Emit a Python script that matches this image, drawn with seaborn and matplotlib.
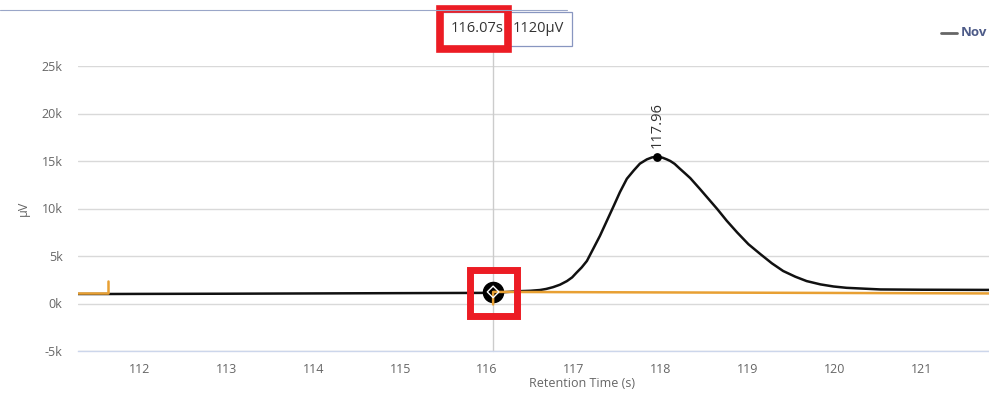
import numpy as np
import pandas as pd
import matplotlib
matplotlib.use("Agg")
import matplotlib.pyplot as plt
from matplotlib.patches import Rectangle
from matplotlib.lines import Line2D
import seaborn as sns

# chromatogram trace (black)
trace_time = [111.29, 111.63, 112.0, 113.0, 114.0, 115.0, 116.07, 116.38, 116.5,
              116.61, 116.68, 116.76, 116.84, 116.92, 116.98, 117.03, 117.09, 117.15,
              117.22, 117.30, 117.38, 117.46, 117.53, 117.61, 117.69, 117.76, 117.84,
              117.90, 117.96, 118.02, 118.07, 118.11, 118.16, 118.22, 118.28, 118.34,
              118.45, 118.55, 118.65, 118.76, 118.88, 119.01, 119.15, 119.28, 119.41,
              119.55, 119.68, 119.84, 119.99, 120.14, 120.30, 120.53, 121.0, 121.78]
trace_uv = [1000, 1000, 1010, 1030, 1060, 1090, 1120, 1300, 1340,
            1420, 1530, 1720, 1980, 2360, 2750, 3240, 3800, 4480,
            5710, 7120, 8710, 10300, 11720, 13130, 14010, 14720, 15170,
            15380, 15430, 15350, 15170, 15000, 14700, 14190, 13700, 13200,
            12070, 11010, 9950, 8710, 7480, 6240, 5180, 4230, 3420,
            2820, 2360, 2010, 1790, 1650, 1580, 1480, 1450, 1430]

# baseline (orange), two pieces
base_time = [111.29, 111.63, 111.63, 116.07, 116.07, 121.78]
base_uv = [1060, 1060, 2330, -100, 1220, 1060]
base_seg = [0, 0, 0, 1, 1, 1]

peak_time = 117.96
peak_uv = 15430
cursor_time = 116.07
cursor_uv = 1220

y_ticks = [-5000, 0, 5000, 10000, 15000, 20000, 25000]
y_labels = ["-5k", "0k", "5k", "10k", "15k", "20k", "25k"]
x_ticks = [112, 113, 114, 115, 116, 117, 118, 119, 120, 121]

trace_df = pd.DataFrame({"t": trace_time, "uv": trace_uv})
base_df = pd.DataFrame({"t": base_time, "uv": base_uv, "seg": base_seg})

sns.set_style("white")
plt.rcParams["font.family"] = ["Open Sans", "DejaVu Sans"]

W, H = 989, 395
fig = plt.figure(figsize=(W / 100, H / 100), dpi=100)

def fx(x):
    return x / W

def fy(y):
    return 1 - y / H

ax = fig.add_axes([fx(78), fy(351), fx(989) - fx(78), fy(66) - fy(351)])

sns.lineplot(data=trace_df, x="t", y="uv", estimator=None, sort=False,
             color="#111111", lw=1.8, ax=ax)
sns.lineplot(data=base_df, x="t", y="uv", units="seg", estimator=None, sort=False,
             color="#e8a033", lw=1.8, ax=ax, zorder=8)

# crosshair
ax.plot([cursor_time, cursor_time], [-5000, 27400], color="#cccccc", lw=1,
        clip_on=False, zorder=1)

# peak marker + label
ax.scatter([peak_time], [peak_uv], s=28, color="black", zorder=5)
ax.text(peak_time, peak_uv + 900, "117.96", rotation=90, ha="center", va="bottom",
        fontsize=10.5, color="#333333")

# cursor marker
ax.scatter([cursor_time], [cursor_uv], s=210, color="black", zorder=6)
ax.scatter([cursor_time], [cursor_uv], s=35, marker="D", facecolor="none",
           edgecolor="white", lw=1, zorder=9)

ax.set_xlim(111.29, 121.78)
ax.set_ylim(-5000, 25000)
ax.set_yticks(y_ticks)
ax.set_yticklabels(y_labels)
ax.set_xticks(x_ticks)
ax.grid(axis="y", color="#d9d9d9", lw=1)
ax.grid(axis="x", visible=False)
for s in ["top", "left", "right"]:
    ax.spines[s].set_visible(False)
ax.spines["bottom"].set_color("#ccd6eb")
ax.spines["bottom"].set_linewidth(1)
ax.tick_params(axis="y", length=0, pad=11, labelsize=9, labelcolor="#666666")
ax.tick_params(axis="x", length=6.5, width=1, color="#ccd6eb", pad=2,
               labelsize=9, labelcolor="#666666", direction="out")
ax.set_xlabel("Retention Time (s)", fontsize=9, color="#666666")
ax.xaxis.set_label_coords((582 - 78) / 911, -0.09)
ax.set_ylabel("µV", fontsize=9, color="#666666")
ax.yaxis.set_label_coords(-(78 - 30) / 911, 0.5)

# tooltip
fig.add_artist(Line2D([fx(0), fx(567)], [fy(10), fy(10)], color="#9aa6c8", lw=0.8))
fig.add_artist(Rectangle((fx(437), fy(46)), fx(572) - fx(437), fy(12) - fy(46),
                         facecolor="white", edgecolor="#8896c0", lw=0.9))
fig.text(fx(477), fy(29), "116.07s", ha="center", va="center", fontsize=10.5, color="#333333")
fig.text(fx(538), fy(29), "1120µV", ha="center", va="center", fontsize=10.5, color="#333333")

# red highlight boxes
red = "#ec1c24"
fig.add_artist(Rectangle((fx(439.5), fy(49)), fx(508) - fx(439.5), fy(9) - fy(49),
                         facecolor="none", edgecolor=red, lw=5.5))
fig.add_artist(Rectangle((fx(470), fy(315.5)), fx(516.5) - fx(470), fy(270) - fy(315.5),
                         facecolor="none", edgecolor=red, lw=5, zorder=10))

# legend at the right edge
fig.add_artist(Line2D([fx(941), fx(957)], [fy(33), fy(33)], color="#666666", lw=2))
fig.text(fx(961), fy(33), "Nov", ha="left", va="center", fontsize=9.5,
         fontweight="bold", color="#4d5b88")

fig.savefig("out.png", dpi=100)
